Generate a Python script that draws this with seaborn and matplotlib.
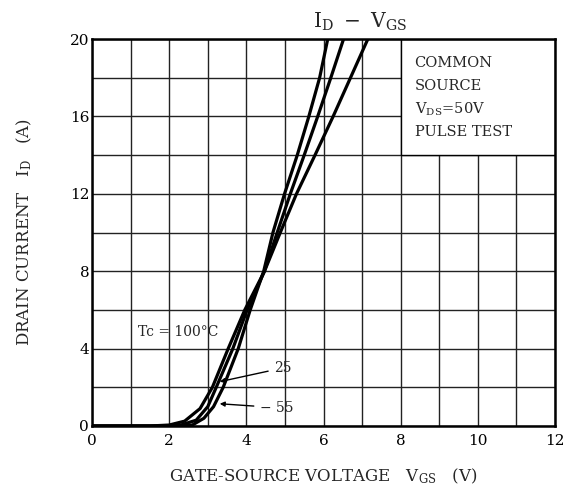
import matplotlib
matplotlib.use('Agg')
import matplotlib.pyplot as plt
from matplotlib.patches import Rectangle
import seaborn as sns
import pandas as pd

### DATA

# gate-source voltage (V) and drain current (A)
v_100 = [0, 1.5, 2.0, 2.4, 2.8, 3.12, 3.53, 3.96, 4.47, 4.88, 5.30, 5.78, 6.25, 6.70, 7.15]
i_100 = [0, 0, 0.05, 0.25, 0.9, 2, 4, 6, 8, 10, 12, 14, 16, 18, 20]

v_25 = [0, 1.8, 2.3, 2.7, 3.0, 3.22, 3.65, 4.02, 4.47, 4.80, 5.14, 5.50, 5.85, 6.19, 6.52]
i_25 = [0, 0, 0.05, 0.3, 1.0, 2, 4, 6, 8, 10, 12, 14, 16, 18, 20]

v_m55 = [0, 2.2, 2.6, 2.9, 3.15, 3.40, 3.79, 4.10, 4.45, 4.69, 4.99, 5.32, 5.62, 5.90, 6.11]
i_m55 = [0, 0, 0.05, 0.4, 1.0, 2, 4, 6, 8, 10, 12, 14, 16, 18, 20]

x_ticks = [0, 2, 4, 6, 8, 10, 12]
y_ticks = [0, 4, 8, 12, 16, 20]

# build a long dataframe for seaborn
frames = []
for tc, v, i in [('100', v_100, i_100), ('25', v_25, i_25), ('-55', v_m55, i_m55)]:
    frames.append(pd.DataFrame({'VGS': v, 'ID': i, 'Tc': tc}))
df = pd.concat(frames, ignore_index=True)

### STYLE

sns.set_style('white')
plt.rcParams['font.family'] = ['DejaVu Serif']
plt.rcParams['mathtext.fontset'] = 'custom'
plt.rcParams['mathtext.rm'] = 'DejaVu Serif'

fig = plt.figure(figsize=(5.67, 4.95), dpi=100)
ax = fig.add_axes([0.1623, 0.1394, 0.8165, 0.7818])

### PLOT

sns.lineplot(
    data=df, x='VGS', y='ID', hue='Tc',
    palette=['black', 'black', 'black'],
    sort=False, estimator=None, linewidth=2.3,
    legend=False, ax=ax, zorder=4
)

# axes
ax.set_xlim(0, 12)
ax.set_ylim(0, 20)
ax.set_xticks(x_ticks)
ax.set_xticks(range(0, 13), minor=True)
ax.set_yticks(y_ticks)
ax.set_yticks(range(0, 21, 2), minor=True)
ax.tick_params(which='both', length=0, labelsize=11, colors='black')
ax.tick_params(axis='x', pad=6)
ax.tick_params(axis='y', pad=2)
ax.grid(True, which='both', color='#222222', linewidth=1.0, zorder=0)
ax.set_axisbelow(True)
for s in ax.spines.values():
    s.set_visible(True)
    s.set_color('black')
    s.set_linewidth(1.8)

# conditions box (covers the grid in the top right corner)
ax.add_patch(Rectangle((8, 14), 4, 6, facecolor='white', edgecolor='black',
                       linewidth=1.0, zorder=2))
box_lines = ['COMMON', 'SOURCE', r'$\mathregular{V_{DS}}$=50V', 'PULSE TEST']
for k, t in enumerate(box_lines):
    ax.text(8.36, 18.75 - k * 1.18, t, fontsize=10.5, va='center', ha='left', zorder=5)

# temperature labels
ax.text(1.2, 4.85, 'Tc = 100°C', fontsize=10, va='center', ha='left')
ax.annotate('25', xy=(3.31, 2.29), xytext=(4.72, 3.0), fontsize=10, va='center',
            arrowprops=dict(arrowstyle='-|>', color='black', lw=1.0, mutation_scale=7,
                            shrinkA=2, shrinkB=0))
ax.annotate('− 55', xy=(3.31, 1.15), xytext=(4.35, 0.95), fontsize=10, va='center',
            arrowprops=dict(arrowstyle='-|>', color='black', lw=1.0, mutation_scale=7,
                            shrinkA=2, shrinkB=0))

# titles
ax.set_title(r'$\mathregular{I_D\ -\ V_{GS}}$', fontsize=14.5, pad=8, x=0.58)
ax.set_xlabel(r'GATE-SOURCE VOLTAGE   $\mathregular{V_{GS}}$   (V)', fontsize=12, labelpad=13)
ax.set_ylabel(r'DRAIN CURRENT   $\mathregular{I_D}$   (A)', fontsize=12, labelpad=26)

plt.savefig('out.png', dpi=100)
